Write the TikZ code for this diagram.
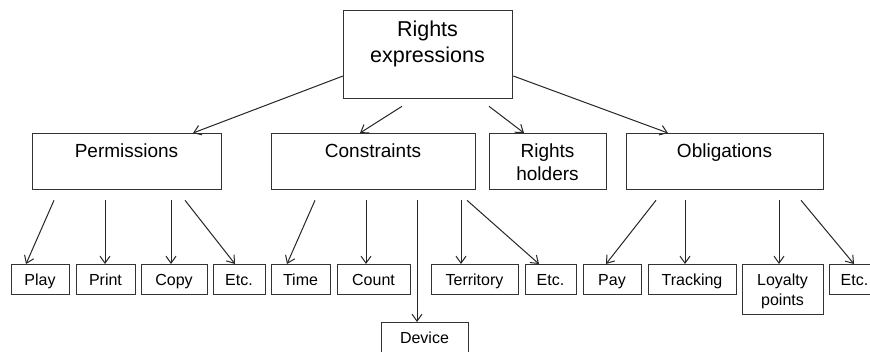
\documentclass[tikz,border=0pt]{standalone}
\usepackage{fontspec}
\setmainfont{Liberation Sans}
\usetikzlibrary{arrows.meta,calc}
\begin{document}
\begin{tikzpicture}[x=1pt,y=-1pt,
  box/.style={draw=black!80,line width=1.3pt,inner sep=0pt,anchor=north west,rectangle},
  arr/.style={draw=black!85,line width=1pt,-{Straight Barb[length=7pt,width=10pt,line width=1pt]}},
  big/.style={font=\fontsize{21.5}{26}\selectfont,anchor=base,inner sep=0pt,text=black},
  mid/.style={font=\fontsize{19}{23}\selectfont,anchor=base,inner sep=0pt,text=black},
  small/.style={font=\fontsize{16}{19.5}\selectfont,anchor=base,inner sep=0pt,text=black}]
\fill[white] (0,0) rectangle (870,351);
\useasboundingbox (0,0) rectangle (870,351);
% top
\node[box,minimum width=169pt,minimum height=88pt] (top) at (343,10) {};
\node[big] (t1) at (427.5,36) {Rights};
\node[big] (t2) at (427.5,62) {expressions};
% headers
\node[box,minimum width=189pt,minimum height=56pt] (perm) at (32,133) {};
\node[box,minimum width=204pt,minimum height=56pt] (cons) at (271,133) {};
\node[box,minimum width=117pt,minimum height=56pt] (rh) at (489,133) {};
\node[box,minimum width=197pt,minimum height=56pt] (obl) at (626,133) {};
\node[mid] (tperm) at (126.5,157) {Permissions};
\node[mid] (tcons) at (373,157) {Constraints};
\node[mid] (trh1) at (547.5,157) {Rights};
\node[mid] (trh2) at (547.5,180) {holders};
\node[mid] (tobl) at (724.5,157) {Obligations};
% bottom boxes
\node[box,minimum width=58pt,minimum height=30pt] (play) at (11,264) {};
\node[box,minimum width=59pt,minimum height=30pt] (print) at (76,264) {};
\node[box,minimum width=66pt,minimum height=30pt] (copy) at (141,264) {};
\node[box,minimum width=52pt,minimum height=30pt] (etca) at (213,264) {};
\node[box,minimum width=59pt,minimum height=30pt] (time) at (271,264) {};
\node[box,minimum width=73pt,minimum height=30pt] (count) at (337,264) {};
\node[box,minimum width=87pt,minimum height=34pt] (device) at (381,322) {};
\node[box,minimum width=87pt,minimum height=30pt] (terr) at (431,264) {};
\node[box,minimum width=51pt,minimum height=30pt] (etcb) at (525,264) {};
\node[box,minimum width=58pt,minimum height=30pt] (pay) at (583,264) {};
\node[box,minimum width=88pt,minimum height=30pt] (track) at (648,264) {};
\node[box,minimum width=81pt,minimum height=50pt] (loy) at (742,264) {};
\node[box,minimum width=51pt,minimum height=30pt] (etcc) at (829,264) {};
\node[small] (tplay) at (40,285.5) {Play};
\node[small] (tprint) at (105.5,285.5) {Print};
\node[small] (tcopy) at (174,285.5) {Copy};
\node[small] (tetca) at (239,285.5) {Etc.};
\node[small] (ttime) at (300.5,285.5) {Time};
\node[small] (tcount) at (373.5,285.5) {Count};
\node[small] (tdevice) at (424.5,343) {Device};
\node[small] (tterr) at (474.5,285.5) {Territory};
\node[small] (tetcb) at (550.5,285.5) {Etc.};
\node[small] (tpay) at (612,285.5) {Pay};
\node[small] (ttrack) at (692,285.5) {Tracking};
\node[small] (tloy1) at (782.5,285.5) {Loyalty};
\node[small] (tloy2) at (782.5,305) {points};
\node[small] (tetcc) at (854.5,285.5) {Etc.};
% arrows from top
\draw[arr] ($(top.north west)+(0,66)$) -- ($(perm.north west)+(161,0)$);
\draw[arr] ($(top.south west)+(59,7)$) -- ($(cons.north west)+(89,0)$);
\draw[arr] ($(top.south west)+(146,7)$) -- ($(rh.north west)+(35,0)$);
\draw[arr] ($(top.north east)+(0,66)$) -- ($(obl.north west)+(42,0)$);
% permissions
\draw[arr] ($(perm.south west)+(22,10)$) -- ($(play.north west)+(15,0)$);
\draw[arr] ($(perm.south west)+(73,10)$) -- ($(print.north west)+(29,0)$);
\draw[arr] ($(perm.south west)+(139,10)$) -- ($(copy.north west)+(30,0)$);
\draw[arr] ($(perm.south west)+(153,10)$) -- ($(etca.north west)+(22,0)$);
% constraints
\draw[arr] ($(cons.south west)+(44,10)$) -- ($(time.north west)+(16,0)$);
\draw[arr] ($(cons.south west)+(95,10)$) -- ($(count.north west)+(29,0)$);
\draw[arr] ($(cons.south west)+(146,10)$) -- ($(device.north west)+(36,0)$);
\draw[arr] ($(cons.south west)+(190,10)$) -- ($(terr.north west)+(30,0)$);
\draw[arr] ($(cons.south west)+(196,10)$) -- ($(etcb.north west)+(14,0)$);
% obligations
\draw[arr] ($(obl.south west)+(30,10)$) -- ($(pay.north west)+(23,0)$);
\draw[arr] ($(obl.south west)+(59,10)$) -- ($(track.north west)+(37,0)$);
\draw[arr] ($(obl.south west)+(153,10)$) -- ($(loy.north west)+(37,0)$);
\draw[arr] ($(obl.south west)+(175,10)$) -- ($(etcc.north west)+(25,0)$);
\end{tikzpicture}
\end{document}
